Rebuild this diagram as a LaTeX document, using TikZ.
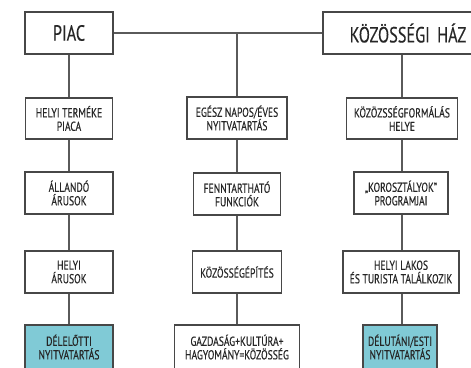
\documentclass[tikz,border=0pt]{standalone}
\usepackage{fontspec}
\setmainfont{PT Sans}[FakeStretch=0.74,FakeBold=0.3]
\definecolor{teal1}{HTML}{80CAD6}
\definecolor{boxline}{HTML}{474747}
\definecolor{conn}{HTML}{5A5A5A}
\definecolor{txt}{HTML}{262626}
\begin{document}
\begin{tikzpicture}[x=1pt,y=-1pt,
  box/.style={draw=boxline,line width=1.2pt,fill=white,inner sep=0pt,align=center,text=txt,
    font=\fontsize{13}{13.5}\selectfont},
  title/.style={box,font=\fontsize{22}{24}\selectfont},
  hl/.style={fill=teal1},
  conn/.style={draw=conn,line width=1.4pt}]
\useasboundingbox (0,0) rectangle (471,367);
\fill[white] (0,0) rectangle (471,367);
\clip (0,0) rectangle (471,367);
% titles
\node[title,minimum width=88pt,minimum height=42pt] (piac) at (69,33) {PIAC};
\node[title,minimum width=158pt,minimum height=42pt,text width=150pt] (koz) at (402,33) {\hspace*{12pt}KÖZÖSSÉGI HÁZ};
% left column
\node[box,minimum width=87pt,minimum height=41pt] (l1) at (69,118.5) {HELYI TERMÉKE\\PIACA};
\node[box,minimum width=88pt,minimum height=42pt] (l2) at (69,193) {ÁLLANDÓ\\ÁRUSOK};
\node[box,minimum width=88pt,minimum height=42pt] (l3) at (69,272) {HELYI\\ÁRUSOK};
\node[box,hl,minimum width=88pt,minimum height=44pt] (l4) at (69,347) {DÉLELŐTTI\\NYITVATARTÁS};
% middle column
\coordinate (j) at (237,33);
\node[box,minimum width=100pt,minimum height=42pt] (m1) at (237,118) {EGÉSZ NAPOS/ÉVES\\NYITVATARTÁS};
\node[box,minimum width=87pt,minimum height=42pt] (m2) at (237,194) {FENNTARTHATÓ\\FUNKCIÓK};
\node[box,minimum width=89pt,minimum height=42pt] (m3) at (237,272) {KÖZÖSSÉGÉPÍTÉS};
\node[box,minimum width=125pt,minimum height=44pt] (m4) at (237,347) {GAZDASÁG+KULTÚRA+\\HAGYOMÁNY=KÖZÖSSÉG};
% right column
\node[box,minimum width=111pt,minimum height=41pt] (r1) at (402,118.5) {KÖZÖZSSÉGFORMÁLÁS\\HELYE};
\node[box,minimum width=94pt,minimum height=42pt] (r2) at (401,193) {„KOROSZTÁLYOK”\\PROGRAMJAI};
\node[box,minimum width=116pt,minimum height=42pt] (r3) at (401,272) {HELYI LAKOS\\ÉS TURISTA TALÁLKOZIK};
\node[box,hl,minimum width=74pt,minimum height=44pt] (r4) at (400,347) {DÉLUTÁNI/ESTI\\NYITVATARTÁS};
% connectors
\draw[conn] (piac.east) -- (koz.west);
\draw[conn] (j) -- (m1.north);
\draw[conn] (piac.south) -- (l1.north);
\draw[conn] (l1.south) -- (l2.north);
\draw[conn] (l2.south) -- (l3.north);
\draw[conn] (l3.south) -- (l4.north);
\draw[conn] (m1.south) -- (m2.north);
\draw[conn] (m2.south) -- (m3.north);
\draw[conn] (m3.south) -- (m4.north);
\draw[conn] (koz.south -| r1.north) -- (r1.north);
\draw[conn] (r1.south) -- (r1.south |- r2.north);
\draw[conn] (r2.south -| r1.south) -- (r1.south |- r3.north);
\draw[conn] (r3.south -| r1.south) -- (r1.south |- r4.north);
\end{tikzpicture}
\end{document}
